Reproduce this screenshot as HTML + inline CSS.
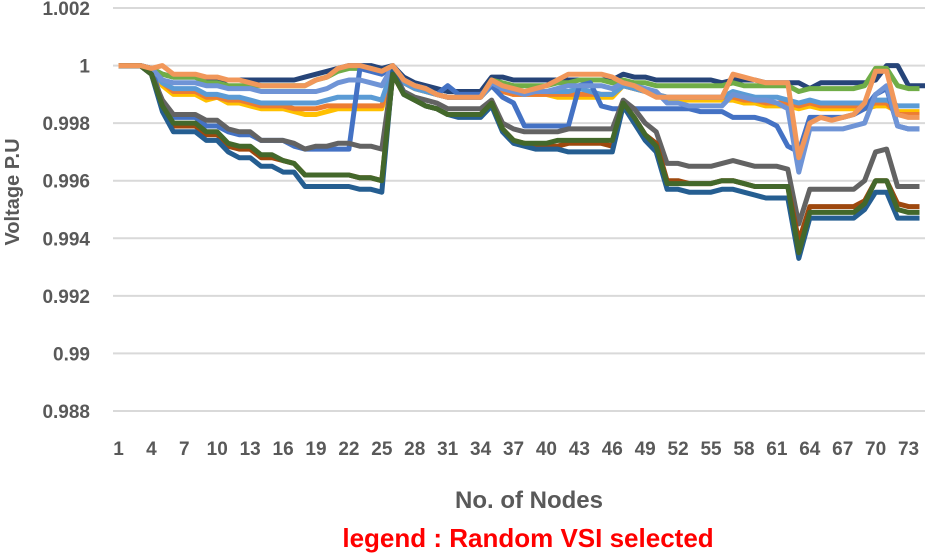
<!DOCTYPE html>
<html><head><meta charset="utf-8"><style>
html,body{margin:0;padding:0;background:#fff;}
svg{display:block;font-family:"Liberation Sans",sans-serif;}
</style></head><body>
<svg id="chart" width="925" height="553" viewBox="0 0 925 553">
<g id="grid"></g>
<g id="yticks"></g>
<g id="xticks"></g>
<g id="series"></g>
<text x="19" y="192" transform="rotate(-90 19 192)" text-anchor="middle" font-size="20" font-weight="bold" fill="#595959">Voltage P.U</text>
<text x="529" y="508" text-anchor="middle" font-size="24" font-weight="bold" fill="#595959">No. of Nodes</text>
<text x="528" y="547" text-anchor="middle" font-size="26" font-weight="bold" fill="#ff0000">legend : Random VSI selected</text>
</svg>
<script>
const yTicks=[0.988,0.99,0.992,0.994,0.996,0.998,1,1.002];
const yTickLabels=["0.988","0.99","0.992","0.994","0.996","0.998","1","1.002"];
const xTickLabels=[1,4,7,10,13,16,19,22,25,28,31,34,37,40,43,46,49,52,55,58,61,64,67,70,73];
const nodeCount=74;
const navy=[1,1,1,0.9999,0.9997,0.9996,0.9996,0.9996,0.9995,0.9995,0.9995,0.9995,0.9995,0.9995,0.9995,0.9995,0.9995,0.9996,0.9997,0.9998,0.9999,1,1,1,0.9999,1,0.9996,0.9994,0.9993,0.9992,0.9991,0.9991,0.9991,0.9991,0.9996,0.9996,0.9995,0.9995,0.9995,0.9995,0.9995,0.9995,0.9995,0.9995,0.9995,0.9995,0.9997,0.9996,0.9996,0.9995,0.9995,0.9995,0.9995,0.9995,0.9995,0.9994,0.9995,0.9995,0.9995,0.9994,0.9994,0.9994,0.9994,0.9992,0.9994,0.9994,0.9994,0.9994,0.9994,0.9995,1,1,0.9993,0.9993,0.9993];
const green=[1,1,1,0.9999,0.9997,0.9996,0.9996,0.9996,0.9994,0.9994,0.9993,0.9993,0.9993,0.9993,0.9993,0.9993,0.9993,0.9993,0.9995,0.9996,0.9998,0.9999,0.9999,0.9999,0.9998,1,0.9995,0.9993,0.9992,0.9990,0.9989,0.9989,0.9989,0.9989,0.9995,0.9994,0.9993,0.9993,0.9993,0.9993,0.9994,0.9994,0.9995,0.9995,0.9995,0.9994,0.9995,0.9994,0.9994,0.9993,0.9993,0.9993,0.9993,0.9993,0.9993,0.9993,0.9994,0.9993,0.9993,0.9993,0.9993,0.9993,0.9991,0.9992,0.9992,0.9992,0.9992,0.9992,0.9993,0.9999,0.9999,0.9993,0.9992,0.9992];
const gold=[1,1,1,0.9999,0.9993,0.9990,0.9990,0.9990,0.9988,0.9989,0.9987,0.9987,0.9986,0.9985,0.9985,0.9985,0.9984,0.9983,0.9983,0.9984,0.9985,0.9985,0.9985,0.9985,0.9985,0.9999,0.9994,0.9992,0.9991,0.9990,0.9989,0.9989,0.9989,0.9989,0.9993,0.9991,0.9990,0.9990,0.9990,0.9990,0.9989,0.9989,0.9989,0.9989,0.9989,0.9989,0.9993,0.9992,0.9991,0.9990,0.9988,0.9988,0.9988,0.9988,0.9988,0.9988,0.9988,0.9987,0.9987,0.9986,0.9986,0.9986,0.9985,0.9986,0.9985,0.9985,0.9985,0.9985,0.9985,0.9986,0.9986,0.9984,0.9984,0.9984];
const orange=[1,1,1,0.9999,0.9994,0.9991,0.9991,0.9991,0.9989,0.9989,0.9988,0.9988,0.9987,0.9986,0.9986,0.9986,0.9985,0.9985,0.9985,0.9986,0.9986,0.9986,0.9986,0.9986,0.9986,0.9999,0.9994,0.9992,0.9991,0.9990,0.9989,0.9989,0.9989,0.9989,0.9993,0.9991,0.9990,0.9990,0.9990,0.9990,0.9990,0.9990,0.9990,0.9990,0.9990,0.9990,0.9993,0.9992,0.9991,0.9990,0.9989,0.9989,0.9989,0.9989,0.9989,0.9989,0.9989,0.9988,0.9988,0.9987,0.9987,0.9987,0.9986,0.9987,0.9986,0.9986,0.9986,0.9986,0.9986,0.9987,0.9987,0.9983,0.9983,0.9983];
const lightBlue=[1,1,1,0.9999,0.9994,0.9992,0.9992,0.9992,0.9990,0.9990,0.9989,0.9989,0.9988,0.9987,0.9987,0.9987,0.9987,0.9987,0.9987,0.9988,0.9989,0.9989,0.9989,0.9989,0.9988,0.9999,0.9994,0.9992,0.9991,0.9990,0.9989,0.9989,0.9989,0.9989,0.9993,0.9992,0.9991,0.9991,0.9991,0.9991,0.9991,0.9991,0.9992,0.9991,0.9990,0.9990,0.9993,0.9992,0.9991,0.9990,0.9989,0.9989,0.9989,0.9989,0.9989,0.9989,0.9991,0.9990,0.9989,0.9989,0.9989,0.9988,0.9987,0.9988,0.9987,0.9987,0.9987,0.9987,0.9987,0.9988,0.9988,0.9986,0.9986,0.9986];
const medBlue=[1,1,1,0.9999,0.9987,0.9982,0.9982,0.9982,0.9979,0.9979,0.9977,0.9976,0.9976,0.9974,0.9974,0.9974,0.9972,0.9971,0.9971,0.9971,0.9971,0.9971,0.9999,0.9998,0.9997,1,0.9995,0.9993,0.9992,0.9990,0.9993,0.9990,0.9990,0.9990,0.9993,0.9989,0.9987,0.9979,0.9979,0.9979,0.9979,0.9979,0.9993,0.9994,0.9986,0.9985,0.9985,0.9985,0.9985,0.9985,0.9985,0.9985,0.9985,0.9984,0.9984,0.9984,0.9982,0.9982,0.9982,0.9981,0.9979,0.9972,0.9970,0.9982,0.9982,0.9982,0.9982,0.9983,0.9985,0.9990,0.9992,0.9979,0.9978,0.9978];
const lavender=[1,1,1,0.9999,0.9995,0.9994,0.9994,0.9994,0.9993,0.9993,0.9992,0.9992,0.9992,0.9991,0.9991,0.9991,0.9991,0.9991,0.9991,0.9992,0.9994,0.9995,0.9995,0.9994,0.9993,1,0.9995,0.9993,0.9992,0.9990,0.9989,0.9989,0.9989,0.9989,0.9994,0.9992,0.9991,0.9990,0.9991,0.9991,0.9992,0.9993,0.9993,0.9993,0.9993,0.9992,0.9994,0.9993,0.9992,0.9991,0.9987,0.9987,0.9986,0.9986,0.9986,0.9986,0.9990,0.9989,0.9988,0.9988,0.9987,0.9985,0.9963,0.9978,0.9978,0.9978,0.9978,0.9979,0.9980,0.9990,0.9993,0.9979,0.9978,0.9978];
const gray=[1,1,1,0.9997,0.9988,0.9983,0.9983,0.9983,0.9981,0.9981,0.9978,0.9977,0.9977,0.9974,0.9974,0.9974,0.9973,0.9971,0.9972,0.9972,0.9973,0.9973,0.9972,0.9972,0.9971,0.9998,0.9991,0.9989,0.9988,0.9987,0.9985,0.9985,0.9985,0.9985,0.9988,0.9980,0.9978,0.9977,0.9977,0.9977,0.9977,0.9978,0.9978,0.9978,0.9978,0.9978,0.9988,0.9985,0.9980,0.9977,0.9966,0.9966,0.9965,0.9965,0.9965,0.9966,0.9967,0.9966,0.9965,0.9965,0.9965,0.9964,0.9945,0.9957,0.9957,0.9957,0.9957,0.9957,0.9960,0.9970,0.9971,0.9958,0.9958,0.9958];
const brown=[1,1,1,0.9997,0.9986,0.9979,0.9979,0.9979,0.9976,0.9976,0.9972,0.9971,0.9971,0.9968,0.9968,0.9967,0.9966,0.9962,0.9962,0.9962,0.9962,0.9962,0.9961,0.9961,0.9960,0.9997,0.9990,0.9988,0.9986,0.9985,0.9983,0.9983,0.9983,0.9983,0.9987,0.9978,0.9974,0.9973,0.9972,0.9972,0.9972,0.9973,0.9973,0.9973,0.9973,0.9972,0.9987,0.9982,0.9976,0.9973,0.9960,0.9960,0.9959,0.9959,0.9959,0.9960,0.9960,0.9959,0.9958,0.9958,0.9958,0.9958,0.9939,0.9951,0.9951,0.9951,0.9951,0.9951,0.9953,0.9960,0.9960,0.9952,0.9951,0.9951];
const darkGreen=[1,1,1,0.9997,0.9986,0.9980,0.9980,0.9980,0.9977,0.9977,0.9973,0.9972,0.9972,0.9969,0.9969,0.9967,0.9966,0.9962,0.9962,0.9962,0.9962,0.9962,0.9961,0.9961,0.9960,0.9997,0.9990,0.9988,0.9986,0.9985,0.9983,0.9983,0.9983,0.9983,0.9987,0.9978,0.9974,0.9973,0.9973,0.9973,0.9974,0.9974,0.9974,0.9974,0.9974,0.9974,0.9987,0.9982,0.9976,0.9972,0.9959,0.9959,0.9959,0.9959,0.9959,0.9960,0.9960,0.9959,0.9958,0.9958,0.9958,0.9958,0.9935,0.9949,0.9949,0.9949,0.9949,0.9949,0.9952,0.9960,0.9960,0.9950,0.9949,0.9949];
const darkBlue=[1,1,1,0.9997,0.9984,0.9977,0.9977,0.9977,0.9974,0.9974,0.9970,0.9968,0.9968,0.9965,0.9965,0.9963,0.9963,0.9958,0.9958,0.9958,0.9958,0.9958,0.9957,0.9957,0.9956,0.9998,0.9990,0.9988,0.9986,0.9985,0.9983,0.9982,0.9982,0.9982,0.9986,0.9977,0.9973,0.9972,0.9971,0.9971,0.9971,0.9970,0.9970,0.9970,0.9970,0.9970,0.9986,0.9980,0.9974,0.9970,0.9957,0.9957,0.9956,0.9956,0.9956,0.9957,0.9957,0.9956,0.9955,0.9954,0.9954,0.9954,0.9933,0.9947,0.9947,0.9947,0.9947,0.9947,0.9950,0.9956,0.9956,0.9947,0.9947,0.9947];
const salmon=[1,1,1,0.9999,1,0.9997,0.9997,0.9997,0.9996,0.9996,0.9995,0.9995,0.9994,0.9993,0.9993,0.9993,0.9993,0.9993,0.9995,0.9996,0.9999,1,1,0.9999,0.9998,1,0.9995,0.9993,0.9992,0.9990,0.9989,0.9989,0.9989,0.9989,0.9995,0.9993,0.9992,0.9991,0.9992,0.9993,0.9995,0.9997,0.9997,0.9997,0.9997,0.9996,0.9994,0.9993,0.9991,0.9989,0.9989,0.9989,0.9989,0.9989,0.9989,0.9989,0.9997,0.9996,0.9995,0.9994,0.9994,0.9994,0.9968,0.9980,0.9982,0.9981,0.9982,0.9983,0.9987,0.9998,0.9998,0.9983,0.9982,0.9982];

const seriesList=[
 ["series-navy",navy,"#264478"],["series-green",green,"#70AD47"],["series-gold",gold,"#FFC000"],
 ["series-orange",orange,"#ED7D31"],["series-light-blue",lightBlue,"#5B9BD5"],["series-medium-blue",medBlue,"#4472C4"],
 ["series-lavender",lavender,"#6F94D6"],["series-gray",gray,"#636363"],["series-brown",brown,"#9E480E"],
 ["series-dark-blue",darkBlue,"#255E91"],["series-dark-green",darkGreen,"#43682B"],["series-salmon",salmon,"#F1975A"]];

const X0=113,X1=925,Y0=411,Y1=8,VMIN=0.988,VMAX=1.002;
const bw=(X1-X0)/nodeCount;
function xScale(i){return X0+(i+0.5)*bw;}
function yScale(v){return Y0-(v-VMIN)/(VMAX-VMIN)*(Y0-Y1);}
const NS="http://www.w3.org/2000/svg";
const grid=document.getElementById('grid'),yt=document.getElementById('yticks'),xt=document.getElementById('xticks'),sg=document.getElementById('series');
yTicks.forEach((v,k)=>{
 const l=document.createElementNS(NS,'line');
 l.setAttribute('x1',X0);l.setAttribute('x2',X1);l.setAttribute('y1',yScale(v));l.setAttribute('y2',yScale(v));
 l.setAttribute('stroke','#d9d9d9');l.setAttribute('stroke-width','2');
 
 
 grid.appendChild(l);
 const t=document.createElementNS(NS,'text');
 t.setAttribute('x',90);t.setAttribute('y',yScale(v)+7);t.setAttribute('text-anchor','end');
 t.setAttribute('font-size','19');t.setAttribute('font-weight','bold');t.setAttribute('fill','#595959');t.textContent=yTickLabels[k];
 
 
 yt.appendChild(t);
});
xTickLabels.forEach(n=>{
 const t=document.createElementNS(NS,'text');
 t.setAttribute('x',xScale(n-1));t.setAttribute('y',455);t.setAttribute('text-anchor','middle');
 t.setAttribute('font-size','19');t.setAttribute('font-weight','bold');t.setAttribute('fill','#595959');t.textContent=n;
 
 
 xt.appendChild(t);
});
seriesList.forEach(s=>{
 const p=document.createElementNS(NS,'polyline');
 p.setAttribute('points',s[1].map((v,i)=>xScale(i).toFixed(1)+','+yScale(v).toFixed(1)).join(' '));
 p.setAttribute('fill','none');p.setAttribute('stroke',s[2]);p.setAttribute('stroke-width','5');
 p.setAttribute('stroke-linejoin','round');
 
 
 sg.appendChild(p);
});
</script>
</body></html>
